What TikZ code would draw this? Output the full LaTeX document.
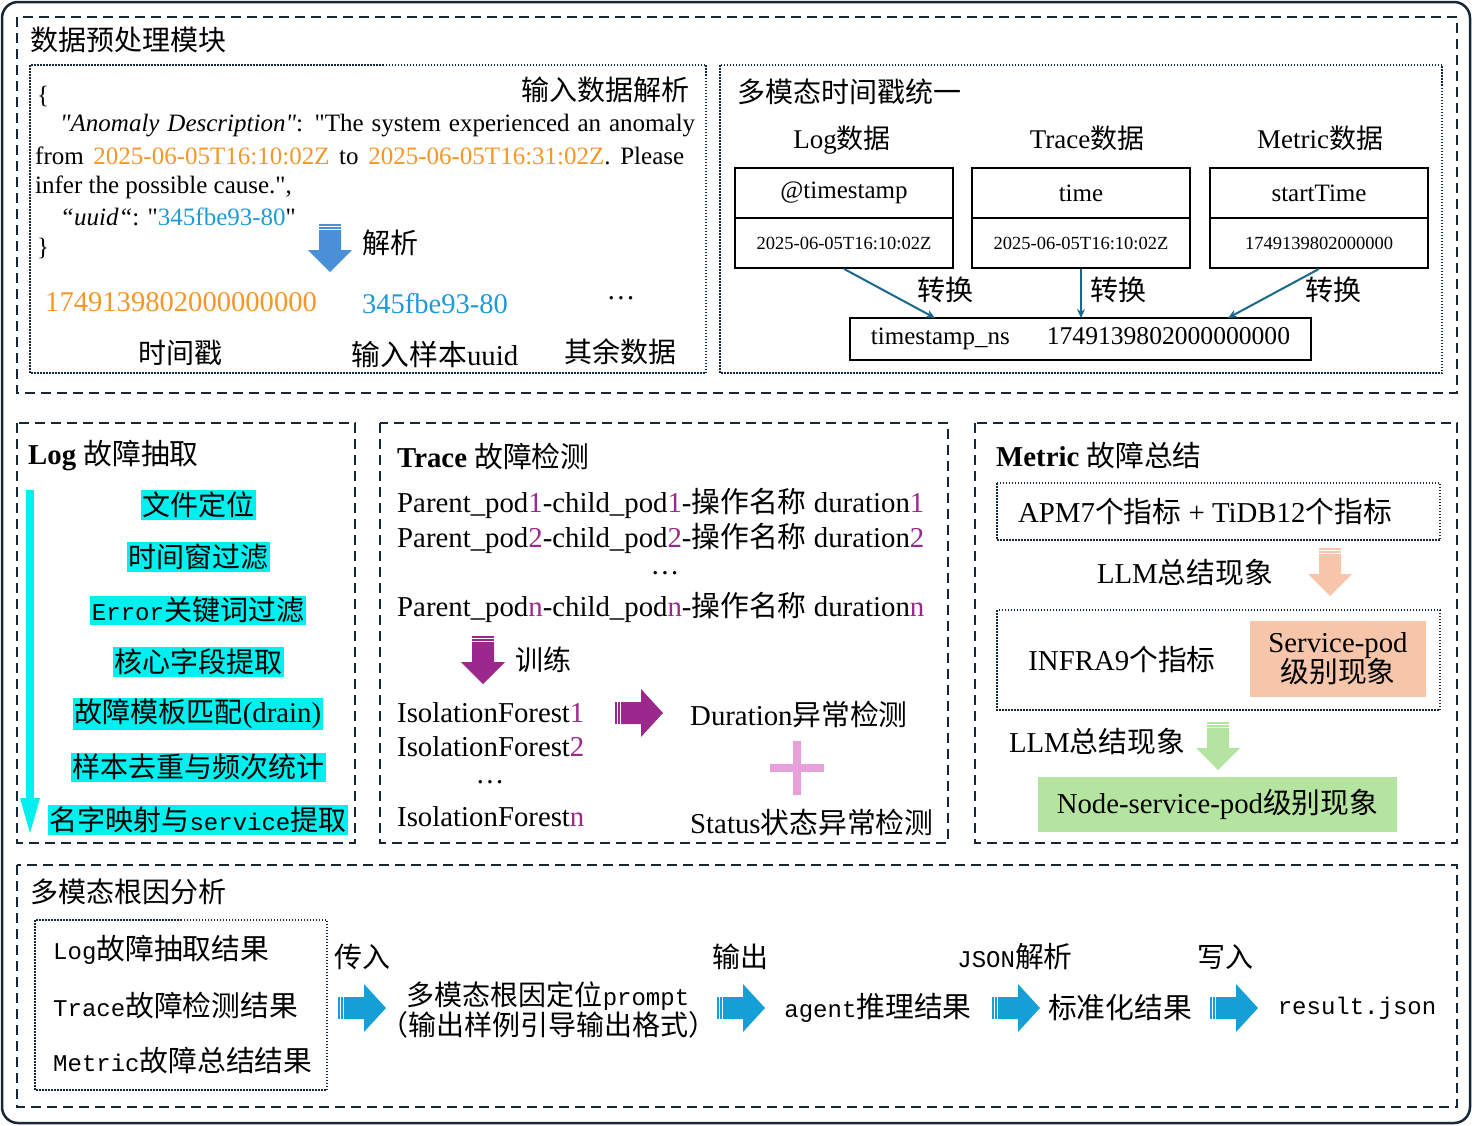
\documentclass[tikz,border=0pt]{standalone}
\usepackage{fontspec}
\setmainfont{Liberation Serif}[Ligatures=TeXOff]
\newfontfamily\cjk{Noto Sans CJK SC}
\newfontfamily\monof{Liberation Mono}
\newcommand\zh[1]{{\cjk #1}}
\newcommand\mo[1]{{\monof\fontsize{24}{28}\selectfont #1}}
\usetikzlibrary{arrows.meta}
\definecolor{frame}{RGB}{22,40,56}
\definecolor{orng}{RGB}{247,150,40}
\definecolor{ublue}{RGB}{30,155,215}
\definecolor{purp}{RGB}{155,40,140}
\definecolor{cyanh}{RGB}{0,240,240}
\definecolor{arrblue}{RGB}{20,160,215}
\definecolor{parseblue}{RGB}{74,144,217}
\definecolor{salmon}{RGB}{247,197,170}
\definecolor{lgreen}{RGB}{180,228,160}
\definecolor{pinkp}{RGB}{232,160,220}
\definecolor{tealarr}{RGB}{25,105,140}
\newcommand\arrdown[3]{%
\begin{scope}[shift={(#1,#2)}]
\fill[#3] (-11,0) rectangle (11,1.5);
\fill[#3] (-11,3) rectangle (11,4.5);
\fill[#3] (-11,6) -- (11,6) -- (11,26) -- (22,26) -- (0,48) -- (-22,26) -- (-11,26) -- cycle;
\end{scope}}
\newcommand\arrright[3]{%
\begin{scope}[shift={(#1,#2)}]
\fill[#3] (0,-11) rectangle (1.5,11);
\fill[#3] (3,-11) rectangle (4.5,11);
\fill[#3] (6,-11) -- (26,-11) -- (26,-24) -- (48,0) -- (26,24) -- (26,11) -- (6,11) -- cycle;
\end{scope}}
\tikzset{
  panel/.style={draw=frame, line width=2pt, dash pattern=on 10pt off 6pt},
  dotbox/.style={draw=frame, line width=1.5pt, dash pattern=on 1.5pt off 1.5pt},
  f28/.style={font=\fontsize{28.8}{32}\selectfont},
  fz/.style={font=\fontsize{28}{32}\selectfont},
  f26/.style={font=\fontsize{27}{30}\selectfont},
  f25/.style={font=\fontsize{25}{29}\selectfont},
  f18/.style={font=\fontsize{18.5}{22}\selectfont},
  cell/.style={draw=black, line width=1.8pt, minimum width=218pt, minimum height=50pt},
  hl/.style={fill=cyanh, inner sep=1.5pt, fz},
  tarr/.style={draw=tealarr, line width=2pt, -{Stealth[length=9pt,width=8pt]}},
}
\begin{document}
\begin{tikzpicture}[x=1pt,y=-1pt, every node/.style={inner sep=0pt}]
\useasboundingbox (0,0) rectangle (1472,1125);
\fill[white] (0,0) rectangle (1472,1125);
\draw[frame, line width=2.5pt, rounded corners=16pt] (2,2) rectangle (1470,1123);

% ===== panels =====
\draw[panel] (17,17) rectangle (1457,393);
\draw[dotbox] (30,65) rectangle (706,373);
\draw[dotbox] (720,65) rectangle (1442,373);
\draw[panel] (17,423) rectangle (355,843);
\draw[panel] (380,423) rectangle (948,843);
\draw[panel] (975,423) rectangle (1457,843);
\draw[panel] (17,865) rectangle (1457,1107);

% ===== data preprocessing =====
\node[fz, anchor=west] (t1) at (30,40) {\zh{数据预处理模块}};
\node[fz, anchor=east] (parsehdr) at (690,90) {\zh{输入数据解析}};
\node[f25, anchor=west] (lb) at (37,96) {\{};
\node[f25, anchor=west] (l1) at (60,126) {\makebox[635pt][s]{\textit{"Anomaly Description"}: "The system experienced an anomaly}};
\node[f25, anchor=west] (l2) at (35,156) {\makebox[649pt][s]{from \textcolor{orng}{2025-06-05T16:10:02Z} to \textcolor{orng}{2025-06-05T16:31:02Z}. Please}};
\node[f25, anchor=west] (l3) at (35,187) {infer the possible cause.",};
\node[f25, anchor=west] (l4) at (60,217) {\textit{“uuid“}: "\textcolor{ublue}{345fbe93-80}"};
\node[f25, anchor=west] (rb) at (37,248) {\}};
\arrdown{330}{224}{parseblue}
\node[fz, anchor=west] (jx) at (362,243) {\zh{解析}};
\node[anchor=west, text=orng, font=\fontsize{28.6}{32}\selectfont] (tsv) at (45,302) {1749139802000000000};
\node[anchor=west, text=ublue, font=\fontsize{28.5}{32}\selectfont] (uuidv) at (362,304) {345fbe93-80};
\node[f28] (dots1) at (621,298) {…};
\node[fz] (tsl) at (180,353) {\zh{时间戳}};
\node[f28] (uuidl) at (435,355) {\zh{输入样本}uuid};
\node[fz] (restl) at (620,352) {\zh{其余数据}};

% ===== timestamp unification =====
\node[fz, anchor=west] (t2) at (737,92) {\zh{多模态时间戳统一}};
\node[f26] (hlog) at (842,140) {Log\zh{数据}};
\node[f26] (htrace) at (1087,138) {Trace\zh{数据}};
\node[f26] (hmet) at (1320,138) {Metric\zh{数据}};
\node[cell, f25] (c1a) at (844,193) {@timestamp};
\node[cell, f18] (c1b) at (844,243) {2025-06-05T16:10:02Z};
\node[cell, f25] (c2a) at (1081,193) {time};
\node[cell, f18] (c2b) at (1081,243) {2025-06-05T16:10:02Z};
\node[cell, f25] (c3a) at (1319,193) {startTime};
\node[cell, f18] (c3b) at (1319,243) {1749139802000000};
\node[draw=black, line width=1.8pt, minimum width=461pt, minimum height=42pt, f25] (ts) at (1080.5,339)
  {timestamp\_ns\hspace{37pt}{\fontsize{25.6}{29}\selectfont 1749139802000000000}};
\coordinate (e1) at (935,318);
\coordinate (e2) at (1081,318);
\coordinate (e3) at (1228,318);
\draw[tarr] (c1b.south) -- (e1);
\draw[tarr] (c2b.south) -- (e2);
\draw[tarr] (c3b.south) -- (e3);
\node[fz] (zh1) at (945,290) {\zh{转换}};
\node[fz] (zh2) at (1118,290) {\zh{转换}};
\node[fz] (zh3) at (1333,290) {\zh{转换}};

% ===== Log panel =====
\node[f28, anchor=west] (t3) at (28,456) {{\bfseries Log} \zh{故障抽取}};
\fill[cyanh] (26,490) rectangle (34,800);
\fill[cyanh] (20,798) -- (40,798) -- (30,833) -- cycle;
\node[hl] (s1) at (198,505) {\zh{文件定位}};
\node[hl] (s2) at (198,557) {\zh{时间窗过滤}};
\node[hl] (s3) at (198,610) {\mo{Error}\zh{关键词过滤}};
\node[hl] (s4) at (198,662) {\zh{核心字段提取}};
\node[hl] (s5) at (198,714) {\zh{故障模板匹配}{\fontsize{28.8}{32}\selectfont(drain)}};
\node[hl] (s6) at (198,767) {\zh{样本去重与频次统计}};
\node[hl] (s7) at (198,820) {\zh{名字映射与}\mo{service}\zh{提取}};

% ===== Trace panel =====
\node[f28, anchor=west] (t4) at (397,456) {{\bfseries Trace} \zh{故障检测}};
\node[f28, anchor=west] (p1) at (397,503) {Parent\_pod\textcolor{purp}{1}-child\_pod\textcolor{purp}{1}-\zh{操作名称} duration\textcolor{purp}{1}};
\node[f28, anchor=west] (p2) at (397,538) {Parent\_pod\textcolor{purp}{2}-child\_pod\textcolor{purp}{2}-\zh{操作名称} duration\textcolor{purp}{2}};
\node[f28] (pd) at (665,573) {…};
\node[f28, anchor=west] (pn) at (397,607) {Parent\_pod\textcolor{purp}{n}-child\_pod\textcolor{purp}{n}-\zh{操作名称} duration\textcolor{purp}{n}};
\arrdown{483}{636}{purp}
\node[fz, anchor=west] (xl) at (515,660) {\zh{训练}};
\node[f28, anchor=west] (if1) at (397,713) {IsolationForest\textcolor{purp}{1}};
\node[f28, anchor=west] (if2) at (397,747) {IsolationForest\textcolor{purp}{2}};
\node[f28] (ifd) at (490,782) {…};
\node[f28, anchor=west] (ifn) at (397,817) {IsolationForest\textcolor{purp}{n}};
\arrright{615}{713}{purp}
\node[f28, anchor=west] (dur) at (690,714) {Duration\zh{异常检测}};
\fill[pinkp] (770,764) rectangle (824,772);
\fill[pinkp] (793,741) rectangle (801,795);
\node[f28, anchor=west] (stat) at (690,822) {Status\zh{状态异常检测}};

% ===== Metric panel =====
\node[f28, anchor=west] (t5) at (996,456) {{\bfseries Metric} \zh{故障总结}};
\draw[dotbox] (997,483) rectangle (1440,540);
\node[f28] (apm) at (1205,512) {APM7\zh{个指标} + TiDB12\zh{个指标}};
\node[f28] (llm1) at (1185,573) {LLM\zh{总结现象}};
\arrdown{1330}{548}{salmon}
\draw[dotbox] (997,610) rectangle (1440,710);
\node[f28] (infra) at (1122,660) {INFRA9\zh{个指标}};
\node[fill=salmon, minimum width=176pt, minimum height=76pt, f28, align=center] (svc) at (1338,659)
  {Service-pod\\[-2pt]\zh{级别现象}};
\node[f28] (llm2) at (1097,742) {LLM\zh{总结现象}};
\arrdown{1218}{722}{lgreen}
\node[fill=lgreen, minimum width=359pt, minimum height=55pt, f28] (nsp) at (1217.5,804.5) {Node-service-pod\zh{级别现象}};

% ===== Root cause panel =====
\node[fz, anchor=west] (t6) at (30,892) {\zh{多模态根因分析}};
\draw[dotbox] (35,920) rectangle (327,1090);
\node[f28, anchor=west] (r1) at (53,950) {\mo{Log}\zh{故障抽取结果}};
\node[f28, anchor=west] (r2) at (53,1005) {\mo{Trace}\zh{故障检测结果}};
\node[f28, anchor=west] (r3) at (53,1060) {\mo{Metric}\zh{故障总结结果}};
\node[fz] (cr) at (362,957) {\zh{传入}};
\arrright{338}{1008}{arrblue}
\node[fz, align=center] (prm) at (548,1010) {\zh{多模态根因定位}\mo{prompt}\\[-2pt]\zh{（输出样例引导输出格式）}};
\node[fz] (sc) at (740,957) {\zh{输出}};
\arrright{717}{1008}{arrblue}
\node[f28] (agt) at (878,1008) {\mo{agent}\zh{推理结果}};
\node[f28] (jp) at (1015,957) {\mo{JSON}\zh{解析}};
\arrright{992}{1008}{arrblue}
\node[f28] (std) at (1120,1008) {\zh{标准化结果}};
\node[fz] (xr) at (1225,957) {\zh{写入}};
\arrright{1210}{1008}{arrblue}
\node[f28] (res) at (1357,1008) {\mo{result.json}};
\end{tikzpicture}
\end{document}
